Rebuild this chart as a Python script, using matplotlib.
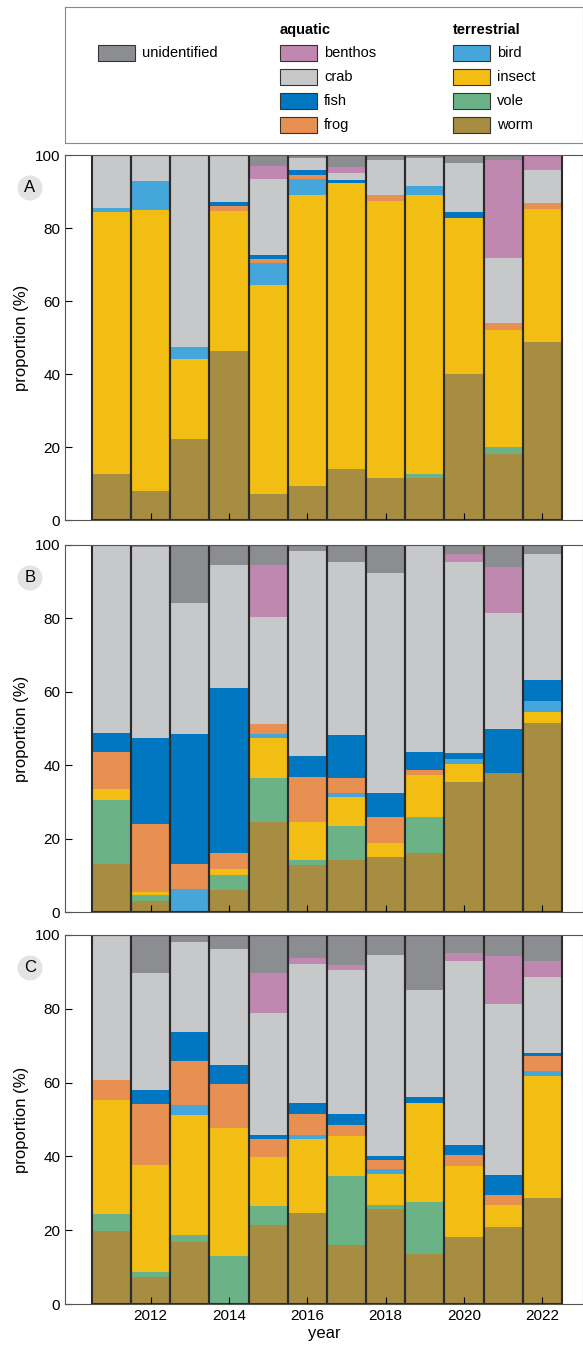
import numpy as np
import matplotlib.pyplot as plt
from matplotlib.patches import Rectangle

years = np.arange(2011, 2023)
cats = ['worm', 'vole', 'insect', 'bird', 'frog', 'fish', 'crab', 'benthos', 'unidentified']
colors = {'worm': '#A68D42', 'vole': '#6BB386', 'insect': '#F3BE14', 'bird': '#45A6DC',
          'frog': '#E89052', 'fish': '#0077C0', 'crab': '#C7C8CA', 'benthos': '#C088B0',
          'unidentified': '#8C8D91'}

# panel A (segment sizes, %)
A_worm = [12.5, 8, 22.3, 46.3, 7, 9.2, 14.1, 11.6, 11.6, 40, 18.2, 48.7]
A_vole = [0, 0, 0, 0, 0, 0, 0, 0, 1.1, 0, 1.9, 0]
A_insect = [72, 77, 21.7, 38.4, 57.3, 79.9, 78.3, 75.9, 76.4, 42.8, 31.9, 36.6]
A_bird = [1, 8, 3.3, 0, 6, 4.4, 0, 0, 2.4, 0, 0, 0]
A_frog = [0, 0, 0, 1.4, 1.3, 1, 0, 1.6, 0, 0, 1.9, 1.6]
A_fish = [0, 0, 0, 1.1, 1.1, 1.4, 0.8, 0, 0, 1.7, 0, 0]
A_crab = [14.5, 7, 52.7, 12.8, 20.8, 3.3, 1.9, 9.5, 7.7, 13.3, 18, 9]
A_benthos = [0, 0, 0, 0, 3.5, 0, 1.6, 0, 0, 0, 26.7, 4.1]
A_unid = [0, 0, 0, 0, 3, 0.8, 3.3, 1.4, 0.8, 2.2, 1.4, 0]

# panel B
B_worm = [13.2, 3.1, 0, 6.1, 24.6, 12.9, 14.3, 15.1, 16.2, 35.5, 38, 51.6]
B_vole = [17.4, 1.4, 0, 4.1, 11.8, 1.4, 9, 0, 9.8, 0, 0, 0]
B_insect = [2.8, 1, 0, 1.6, 10.9, 10.3, 7.9, 3.8, 11.2, 4.7, 0, 2.8]
B_bird = [0, 0, 6.4, 0, 1.1, 0, 1.1, 0, 0, 1.6, 0, 3]
B_frog = [10.3, 18.6, 6.8, 4.4, 2.7, 12.3, 4.1, 7.1, 1.6, 0, 0, 0]
B_fish = [5.2, 23.2, 35.2, 44.7, 0, 5.7, 11.7, 6.3, 4.9, 1.4, 12, 5.7]
B_crab = [51.1, 52.1, 35.7, 33.6, 29.4, 55.7, 47.4, 60.2, 56.3, 52.3, 31.6, 34.4]
B_benthos = [0, 0, 0, 0, 14, 0, 0, 0, 0, 2, 12.3, 0]
B_unid = [0, 0.6, 15.9, 5.5, 5.5, 1.7, 4.5, 7.5, 0, 2.5, 6.1, 2.5]

# panel C
C_worm = [19.8, 7.3, 16.8, 0, 21.4, 24.7, 16, 25.8, 13.5, 18.1, 20.9, 28.8]
C_vole = [4.6, 1.3, 1.9, 13, 5.2, 0, 18.8, 1.1, 14.2, 0, 0, 0]
C_insect = [30.8, 29.1, 32.4, 34.8, 13.3, 19.9, 10.6, 8.4, 26.9, 19.4, 6, 32.9]
C_bird = [0, 0, 2.7, 0, 0, 1.3, 0, 1.4, 0, 0, 0, 1.4]
C_frog = [5.4, 16.4, 12, 11.7, 4.7, 5.7, 3, 2.4, 0, 3, 2.7, 4.1]
C_fish = [0, 3.8, 7.9, 5.2, 1.3, 3, 3.2, 1.1, 1.4, 2.7, 5.4, 0.8]
C_crab = [39.4, 31.8, 24.5, 31.6, 33, 37.6, 39, 54.4, 29.1, 49.8, 46.3, 20.7]
C_benthos = [0, 0, 0, 0, 10.8, 1.6, 1.3, 0, 0, 2.2, 13.1, 4.3]
C_unid = [0, 10.3, 1.8, 3.7, 10.3, 6.2, 8.1, 5.4, 14.9, 4.8, 5.6, 7]

panels = {
    'A': [A_worm, A_vole, A_insect, A_bird, A_frog, A_fish, A_crab, A_benthos, A_unid],
    'B': [B_worm, B_vole, B_insect, B_bird, B_frog, B_fish, B_crab, B_benthos, B_unid],
    'C': [C_worm, C_vole, C_insect, C_bird, C_frog, C_fish, C_crab, C_benthos, C_unid],
}

W, H = 583, 1356
fig = plt.figure(figsize=(W / 100, H / 100), dpi=100)
plt.rcParams['font.family'] = ['Liberation Sans', 'DejaVu Sans']

# axes rows in pixels (top, bottom)
rows = [(155, 520), (545, 912), (935, 1304)]
left, right = 65, 583
for (name, data), (top, bot) in zip(panels.items(), rows):
    ax = fig.add_axes([left / W, 1 - bot / H, (right - left) / W, (bot - top) / H])
    bottom = np.zeros(len(years))
    for cat, vals in zip(cats, data):
        vals = np.array(vals)
        ax.bar(years, vals, width=1.0, bottom=bottom, color=colors[cat], linewidth=0)
        bottom += vals
    ax.bar(years, bottom, width=1.0, fill=False, edgecolor='#2b2b2b', linewidth=1.5)
    ax.set_xlim(2009.81, 2023.04)
    ax.set_ylim(0, 100)
    ax.set_yticks([0, 20, 40, 60, 80, 100])
    ax.set_xticks(range(2012, 2023, 2))
    ax.tick_params(direction='in', labelsize=11, length=5)
    if name != 'C':
        ax.set_xticklabels([])
    else:
        ax.set_xlabel('year', fontsize=12, labelpad=2)
    ax.set_ylabel('proportion (%)', fontsize=12, labelpad=4)
    for s in ax.spines.values():
        s.set_color('#555555')
    fig.text(30 / W, 1 - (top + 33) / H, name, fontsize=12, ha='center', va='center',
             bbox=dict(boxstyle='circle,pad=0.3', fc='#E3E3E3', ec='none'))

# legend box
lax = fig.add_axes([65 / W, 1 - 143 / H, (right - 65) / W, 136 / H])
lax.set_xlim(65, right)
lax.set_ylim(143, 7)
lax.set_xticks([])
lax.set_yticks([])
for s in lax.spines.values():
    s.set_color('#888888')

def entry(x, y, cat, label):
    lax.add_patch(Rectangle((x, y - 8), 37, 16, fc=colors[cat], ec='#333333', lw=0.8))
    lax.text(x + 44, y, label, fontsize=10.5, va='center')

entry(98, 53, 'unidentified', 'unidentified')
lax.text(280, 30, 'aquatic', fontsize=10.5, fontweight='bold', va='center')
for i, c in enumerate(['benthos', 'crab', 'fish', 'frog']):
    entry(280, 53 + 24 * i, c, c)
lax.text(453, 30, 'terrestrial', fontsize=10.5, fontweight='bold', va='center')
for i, c in enumerate(['bird', 'insect', 'vole', 'worm']):
    entry(453, 53 + 24 * i, c, c)

fig.savefig('out.png', dpi=100)
